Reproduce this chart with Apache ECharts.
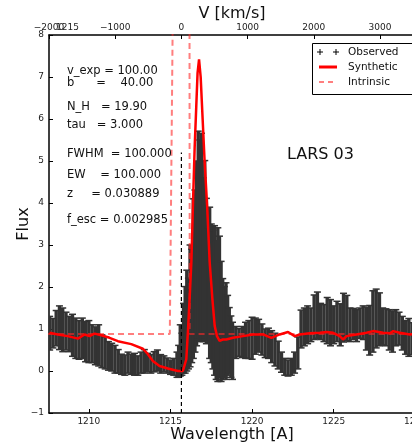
<!DOCTYPE html>
<html>
<head>
<meta charset="utf-8">
<script src="https://cdn.jsdelivr.net/npm/echarts@6/dist/echarts.min.js"></script>
<style>
html,body{margin:0;padding:0;background:#fff;}
#chart{width:412px;height:447px;}
</style>
</head>
<body>
<div id="chart"></div>
<script>
// ---------- DATA ----------
const obsWave = [
  1207.6,1207.8,1208.0,1208.2,1208.4,1208.6,1208.8,1209.0,1209.2,1209.4,
  1209.6,1209.8,1210.0,1210.2,1210.4,1210.6,1210.8,1211.0,1211.2,1211.4,
  1211.6,1211.8,1212.0,1212.2,1212.4,1212.6,1212.8,1213.0,1213.2,1213.4,
  1213.6,1213.8,1214.0,1214.2,1214.4,1214.6,1214.8,1215.0,1215.2,1215.4,
  1215.5,1215.6,1215.7,1215.8,1215.9,1216.0,1216.1,1216.2,1216.3,1216.4,
  1216.5,1216.6,1216.7,1216.8,1216.9,1217.0,1217.1,1217.2,1217.3,1217.4,
  1217.5,1217.6,1217.7,1217.8,1217.9,1218.0,1218.1,1218.2,1218.3,1218.4,
  1218.5,1218.6,1218.7,1218.8,
  1219.0,1219.2,1219.4,1219.6,1219.8,1220.0,1220.2,1220.4,1220.6,1220.8,
  1221.0,1221.2,1221.4,1221.6,1221.8,1222.0,1222.2,1222.4,1222.6,1222.8,
  1223.0,1223.2,1223.4,1223.6,1223.8,1224.0,1224.2,1224.4,1224.6,1224.8,
  1225.0,1225.2,1225.4,1225.6,1225.8,1226.0,1226.2,1226.4,1226.6,1226.8,
  1227.0,1227.2,1227.4,1227.6,1227.8,1228.0,1228.2,1228.4,1228.6,1228.8,
  1229.0,1229.2,1229.4,1229.6,1229.8,1230.0,1230.2,1230.4
];
const obsFlux = [
  0.90,0.90,1.02,1.03,0.98,0.95,0.88,0.85,0.78,0.74,
  0.78,0.70,0.70,0.65,0.60,0.61,0.47,0.43,0.36,0.33,
  0.28,0.23,0.16,0.14,0.20,0.16,0.16,0.13,0.20,0.23,
  0.20,0.17,0.22,0.25,0.17,0.17,0.13,0.09,0.10,0.15,
  0.23,0.49,0.40,0.78,0.98,1.20,1.13,1.55,1.55,2.20,
  2.38,2.80,3.23,3.10,3.19,2.65,2.88,2.38,2.05,2.10,
  1.85,1.70,1.68,1.45,1.58,1.53,1.18,1.00,0.93,0.95,
  0.85,0.73,0.58,0.48,
  0.68,0.68,0.69,0.73,0.75,0.78,0.83,0.84,0.75,0.66,
  0.66,0.58,0.51,0.38,0.21,0.10,0.07,0.10,0.20,0.43,
  1.00,1.05,1.10,1.10,1.28,1.33,1.18,1.14,1.20,1.15,
  1.10,1.18,1.10,1.27,1.26,1.10,1.12,1.08,1.14,1.15,
  1.01,0.97,1.18,1.25,1.23,1.06,1.04,0.98,0.94,1.03,
  1.01,0.90,0.80,0.80,0.77,0.80,0.85,0.88
];
const obsErr = [
  0.40,0.35,0.42,0.52,0.52,0.45,0.42,0.50,0.48,0.46,
  0.48,0.48,0.50,0.45,0.45,0.49,0.39,0.38,0.34,0.33,
  0.33,0.28,0.24,0.24,0.25,0.24,0.26,0.23,0.25,0.28,
  0.22,0.22,0.24,0.25,0.22,0.19,0.18,0.17,0.20,0.30,
  0.38,0.61,0.50,0.83,1.03,1.20,1.08,1.45,1.35,1.90,
  1.93,2.20,2.48,2.40,2.47,1.95,2.13,1.73,1.35,1.80,
  1.65,1.65,1.78,1.65,1.83,1.68,1.43,1.20,1.08,1.15,
  0.95,0.78,0.73,0.68,
  0.38,0.33,0.37,0.43,0.45,0.50,0.43,0.39,0.37,0.34,
  0.36,0.38,0.39,0.33,0.24,0.20,0.19,0.20,0.25,0.38,
  0.45,0.45,0.45,0.40,0.53,0.55,0.43,0.44,0.55,0.55,
  0.45,0.48,0.50,0.58,0.54,0.40,0.37,0.38,0.36,0.40,
  0.51,0.59,0.73,0.70,0.63,0.44,0.44,0.48,0.49,0.43,
  0.39,0.40,0.40,0.45,0.38,0.40,0.40,0.42
];
const synWave = [
  1207.59,1208.10,1208.71,1209.33,1209.74,1210.04,1210.35,1210.76,1211.27,1211.78,
  1212.60,1213.31,1213.62,1213.92,1214.33,1214.84,1215.46,1215.76,1215.97,1216.07,
  1216.17,1216.28,1216.38,1216.48,1216.58,1216.66,1216.75,1216.85,1216.97,1217.09,
  1217.25,1217.40,1217.57,1217.71,1217.85,1218.01,1218.21,1218.42,1218.83,1219.44,
  1220.06,1220.67,1221.18,1221.69,1222.20,1222.61,1222.92,1223.53,1224.15,1224.56,
  1224.96,1225.37,1225.57,1225.78,1226.39,1227.01,1227.41,1228.03,1228.44,1228.64,
  1229.05,1229.66,1230.20
];
const synFlux = [
  0.91,0.87,0.83,0.77,0.87,0.83,0.89,0.85,0.79,0.71,
  0.64,0.53,0.40,0.24,0.12,0.06,0.00,0.00,0.28,0.95,
  1.70,2.60,4.00,5.30,6.30,7.10,7.42,7.00,6.00,5.00,
  3.90,2.60,1.70,1.07,0.83,0.72,0.75,0.75,0.79,0.83,
  0.87,0.87,0.79,0.87,0.93,0.83,0.87,0.90,0.91,0.93,
  0.91,0.83,0.75,0.83,0.87,0.91,0.95,0.91,0.90,0.95,
  0.91,0.87,0.90
];
const intWave = [1207.5,1214.96,1215.225,1216.16,1216.18,1230.2];
const intFlux = [0.88,0.88,12,12,0.88,0.88];
const lyaRest = 1215.67;
const lyaLineTop = 5.2;
const waveTicks = [1210,1215,1220,1225,1230];
const velTicks = [-2000,-1000,0,1000,2000,3000];
const velMin = -2000;
const waveMax = 1230.1;
const fluxMin = -1, fluxMax = 8;
const cLight = 299792.458;
const paramLines = [
  ['v_exp = 100.00', 72],
  ['b      =    40.00', 84],
  ['N_H   = 19.90', 108],
  ['tau   = 3.000', 126],
  ['FWHM  = 100.000', 155],
  ['EW    = 100.000', 176],
  ['z     = 0.030889', 195],
  ['f_esc = 0.002985', 221]
];
const objectName = 'LARS 03';

// ---------- CHART ----------
const FONT = 'DejaVu Sans';
const waveMin = lyaRest * (1 + velMin / cLight);
const velMax = cLight * (waveMax / lyaRest - 1);
const minus = v => String(Math.round(v)).replace('-', '\u2212');

const chart = echarts.init(document.getElementById('chart'), null, {renderer: 'canvas'});

const obsData = obsWave.map((w, i) => [w, obsFlux[i], obsErr[i]]);
const synData = synWave.map((w, i) => [w, synFlux[i]]);
const intData = intWave.map((w, i) => [w, intFlux[i]]);

const graphics = [];
paramLines.forEach(([t, y]) => {
  graphics.push({type: 'text', left: 67, top: y - 7, z: 50,
    style: {text: t, font: '11.5px "' + FONT + '"', fill: '#111'}});
});
graphics.push({type: 'text', left: 287, top: 147, z: 50,
  style: {text: objectName, font: '16px "' + FONT + '"', fill: '#111'}});
graphics.push({type: 'text', x: 232, y: 14, z: 50,
  style: {text: 'V [km/s]', font: '16px "' + FONT + '"', fill: '#111', align: 'center', verticalAlign: 'middle'}});
graphics.push({type: 'text', x: 232, y: 435, z: 50,
  style: {text: 'Wavelength [A]', font: '16px "' + FONT + '"', fill: '#111', align: 'center', verticalAlign: 'middle'}});
graphics.push({type: 'text', x: 24, y: 224, rotation: Math.PI / 2, z: 50,
  style: {text: 'Flux', font: '16px "' + FONT + '"', fill: '#111', align: 'center', verticalAlign: 'middle'}});
graphics.push({type: 'text', x: 56, y: 28, z: 50,
  style: {text: '1215', font: '9px "' + FONT + '"', fill: '#222', align: 'left', verticalAlign: 'middle'}});
// legend
graphics.push({type: 'rect', shape: {x: 312.5, y: 43.5, width: 104, height: 51}, z: 60,
  style: {fill: '#fff', stroke: '#000', lineWidth: 1}});
[320, 336].forEach(px => {
  graphics.push({type: 'line', shape: {x1: px - 3, y1: 52, x2: px + 3, y2: 52}, z: 61, style: {stroke: '#000', lineWidth: 1}});
  graphics.push({type: 'line', shape: {x1: px, y1: 49, x2: px, y2: 55}, z: 61, style: {stroke: '#000', lineWidth: 1}});
});
graphics.push({type: 'line', shape: {x1: 319, y1: 67, x2: 337, y2: 67}, z: 61, style: {stroke: '#ff0000', lineWidth: 3}});
graphics.push({type: 'line', shape: {x1: 319, y1: 82, x2: 337, y2: 82}, z: 61,
  style: {stroke: 'rgba(255,40,40,0.6)', lineWidth: 2, lineDash: [5, 4]}});
[['Observed', 52], ['Synthetic', 67], ['Intrinsic', 82]].forEach(([t, y]) => {
  graphics.push({type: 'text', x: 348, y: y, z: 61,
    style: {text: t, font: '10.5px "' + FONT + '"', fill: '#111', align: 'left', verticalAlign: 'middle'}});
});

const axisLineStyle = {color: '#000', width: 1.5};

const option = {
  animation: false,
  backgroundColor: '#fff',
  textStyle: {fontFamily: FONT},
  grid: {left: 49, top: 35, width: 368, height: 378, containLabel: false, outerBoundsMode: 'none'},
  xAxis: [
    {
      type: 'value', position: 'bottom', min: waveMin, max: waveMax,
      axisLine: {show: true, onZero: false, lineStyle: axisLineStyle},
      axisTick: {show: true, inside: true, length: 4, customValues: waveTicks, lineStyle: {color: '#000', width: 1}},
      axisLabel: {customValues: waveTicks, fontSize: 9, color: '#222', margin: 4, fontFamily: FONT, formatter: v => String(Math.round(v))},
      splitLine: {show: false}
    },
    {
      type: 'value', position: 'top', min: velMin, max: velMax,
      axisLine: {show: true, onZero: false, lineStyle: axisLineStyle},
      axisTick: {show: true, inside: true, length: 4, customValues: velTicks, lineStyle: {color: '#000', width: 1}},
      axisLabel: {customValues: velTicks, fontSize: 9, color: '#222', margin: 3, fontFamily: FONT, formatter: minus, hideOverlap: false},
      splitLine: {show: false}
    }
  ],
  yAxis: [{
    type: 'value', min: fluxMin, max: fluxMax, interval: 1,
    axisLine: {show: true, onZero: false, lineStyle: axisLineStyle},
    axisTick: {show: true, inside: true, length: 4, lineStyle: {color: '#000', width: 1}},
    axisLabel: {fontSize: 9, color: '#222', margin: 5, fontFamily: FONT, formatter: minus},
    splitLine: {show: false}
  }],
  graphic: graphics,
  series: [
    {
      name: 'Observed', type: 'custom', xAxisIndex: 0, yAxisIndex: 0,
      data: obsData, clip: true, silent: true, z: 2,
      encode: {x: 0, y: 1},
      renderItem: function (params, api) {
        const x = api.value(0), f = api.value(1), e = api.value(2);
        const hi = api.coord([x, f + e]);
        const lo = api.coord([x, f - e]);
        const hw = 3.5;
        const cap = {stroke: '#333', lineWidth: 1.5};
        return {type: 'group', children: [
          {type: 'line', shape: {x1: hi[0], y1: hi[1], x2: lo[0], y2: lo[1]}, style: {stroke: '#333', lineWidth: 3.4}},
          {type: 'line', shape: {x1: hi[0] - hw, y1: hi[1], x2: hi[0] + hw, y2: hi[1]}, style: cap},
          {type: 'line', shape: {x1: lo[0] - hw, y1: lo[1], x2: lo[0] + hw, y2: lo[1]}, style: cap}
        ]};
      }
    },
    {
      name: 'Intrinsic', type: 'line', data: intData, symbol: 'none', clip: true, z: 3,
      lineStyle: {color: 'rgba(255,40,40,0.6)', width: 2, type: [6, 4]}
    },
    {
      name: 'Synthetic', type: 'line', data: synData, symbol: 'none', clip: true, z: 4,
      lineStyle: {color: '#ff0000', width: 2.5}
    },
    {
      name: 'LyaRest', type: 'line', data: [[lyaRest, fluxMin], [lyaRest, lyaLineTop]], symbol: 'none', clip: true, z: 5,
      lineStyle: {color: '#000', width: 1.2, type: [4, 3]}
    }
  ]
};
chart.setOption(option);
</script>
</body>
</html>
